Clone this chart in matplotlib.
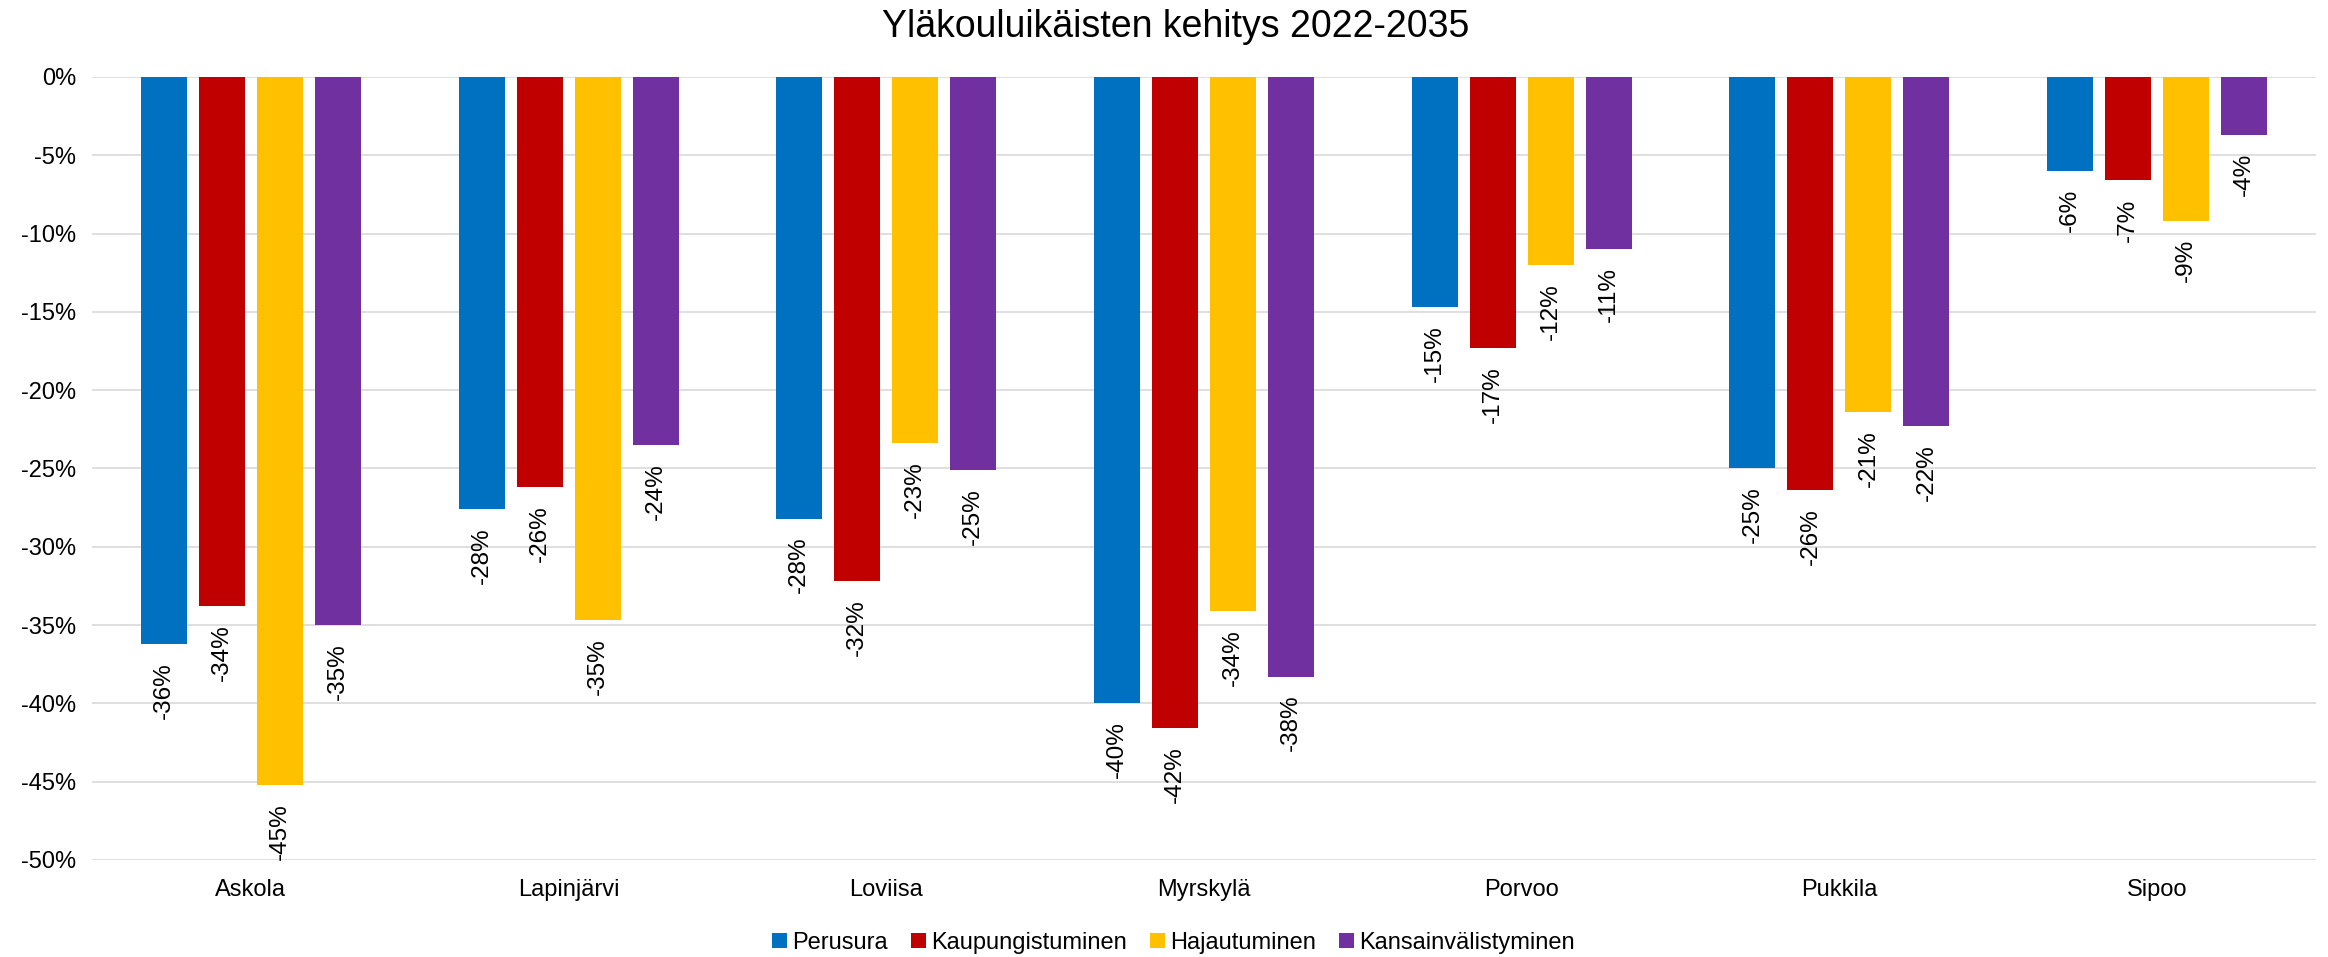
import matplotlib
matplotlib.use("Agg")
import matplotlib.pyplot as plt
import numpy as np
from matplotlib.ticker import FuncFormatter, MultipleLocator

plt.rcParams['font.family'] = ['Liberation Sans', 'DejaVu Sans']

title = "Yläkouluikäisten kehitys 2022-2035"
categories = ["Askola", "Lapinjärvi", "Loviisa", "Myrskylä", "Porvoo", "Pukkila", "Sipoo"]
series_names = ["Perusura", "Kaupungistuminen", "Hajautuminen", "Kansainvälistyminen"]
perusura = [-36.2, -27.6, -28.2, -40.0, -14.7, -25.0, -6.0]
kaupungistuminen = [-33.8, -26.2, -32.2, -41.6, -17.3, -26.4, -6.6]
hajautuminen = [-45.2, -34.7, -23.4, -34.1, -12.0, -21.4, -9.2]
kansainvalistyminen = [-35.0, -23.5, -25.1, -38.3, -11.0, -22.3, -3.7]
colors = ["#0070C0", "#C00000", "#FFC000", "#7030A0"]

series = [perusura, kaupungistuminen, hajautuminen, kansainvalistyminen]

fig = plt.figure(figsize=(23.28, 9.57), dpi=100)
ax = fig.add_axes([92/2328, 1-860/957, (2316-92)/2328, (860-77)/957])

x = np.arange(len(categories))
pitch = 0.1826
width = 0.145
for i, (vals, name, c) in enumerate(zip(series, series_names, colors)):
    pos = x + (i - 1.5) * pitch
    ax.bar(pos, vals, width=width, color=c, label=name, zorder=3)
    for px, v in zip(pos, vals):
        ax.annotate(f"{v:.0f}%", xy=(px, v), xytext=(0, -13), textcoords='offset points',
                    rotation=90, ha='center', va='top', fontsize=17.5, color='black', zorder=4)

ax.set_ylim(-50, 0)
ax.set_xlim(-0.5, len(categories) - 0.5)
ax.yaxis.set_major_locator(MultipleLocator(5))
ax.yaxis.set_major_formatter(FuncFormatter(lambda v, p: f"{v:.0f}%"))
ax.set_xticks(x)
ax.set_xticklabels(categories)
ax.tick_params(axis='both', length=0, labelsize=17)
ax.tick_params(axis='y', pad=11.5)
ax.tick_params(axis='x', pad=14)
ax.grid(axis='y', color='#D9D9D9', linewidth=1.2, zorder=0)
for s in ax.spines.values():
    s.set_visible(False)

fig.text(0.505, 1 - 27/957, title, ha='center', va='center', fontsize=27)

fig.legend(loc='center', bbox_to_anchor=(0.504, 1 - 943/957), ncol=4, frameon=False,
           fontsize=17, handlelength=0.63, handleheight=0.63, handletextpad=0.2,
           columnspacing=1.0)

fig.savefig("out.png", dpi=100)
